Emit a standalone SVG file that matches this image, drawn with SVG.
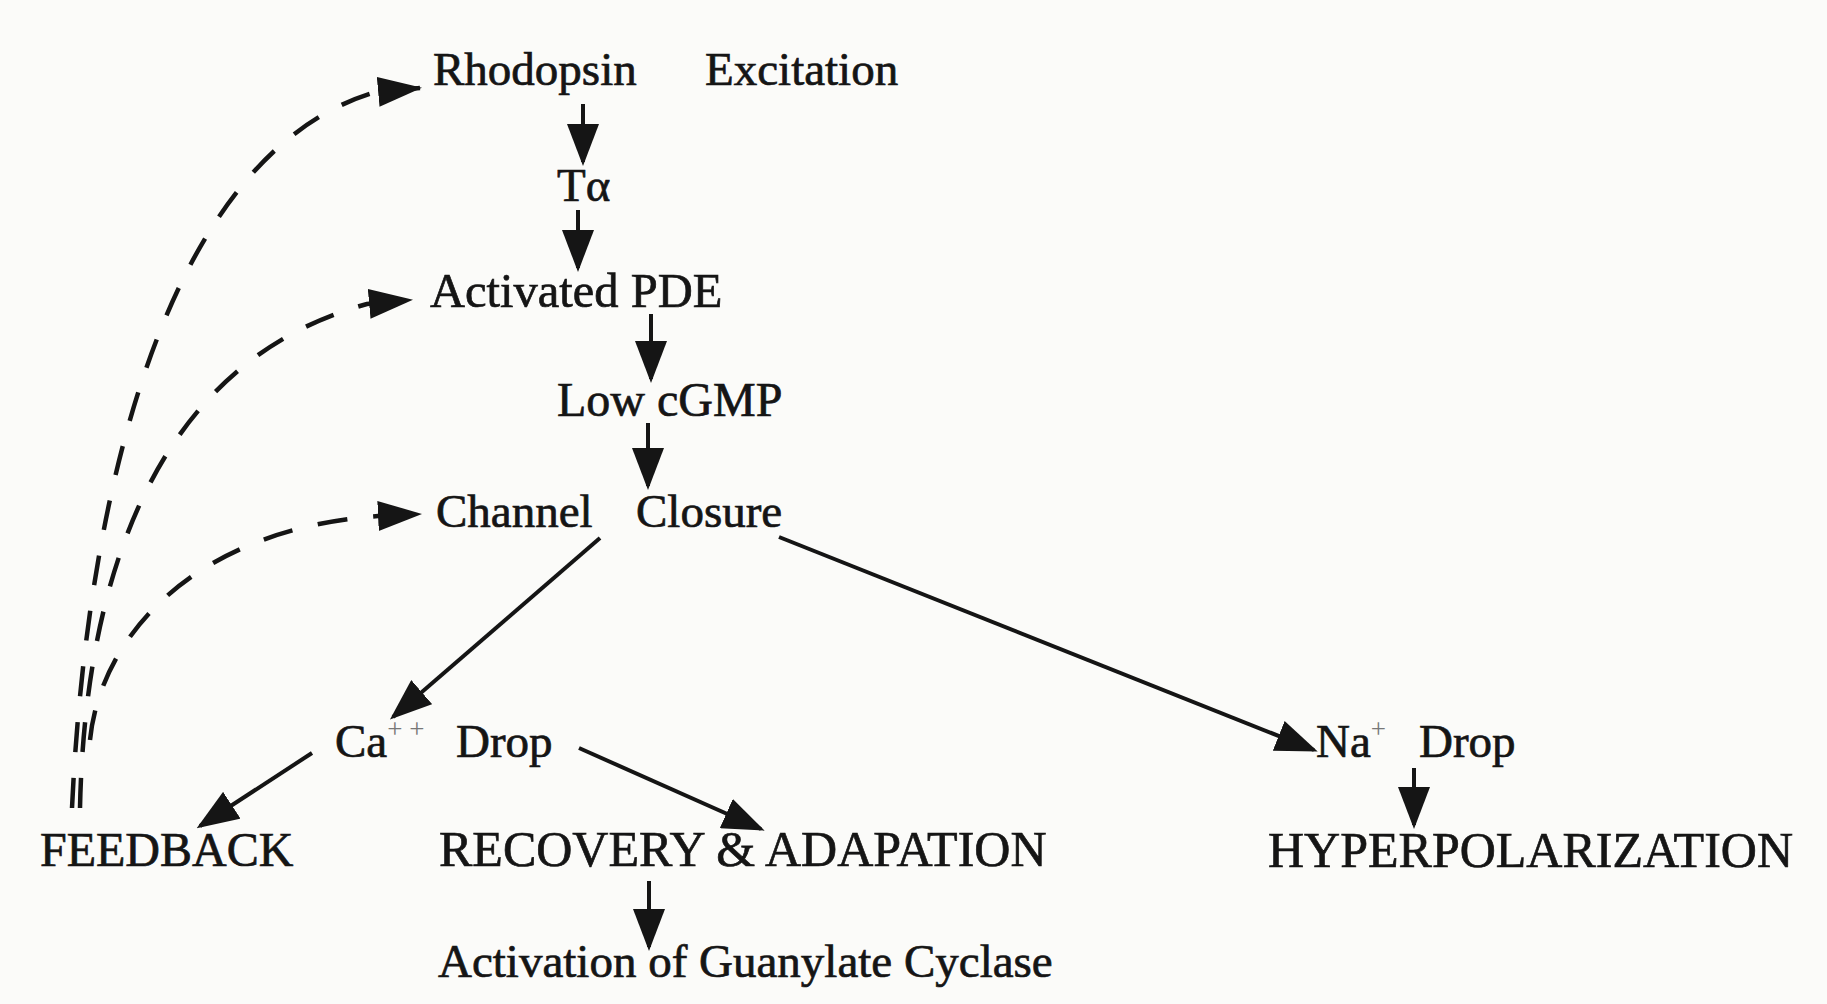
<svg xmlns="http://www.w3.org/2000/svg" width="1827" height="1004" viewBox="0 0 1827 1004">
<style>
.t{font-family:"Liberation Serif","Times New Roman",serif;font-size:47px;fill:#151515;stroke:#151515;stroke-width:0.7}
.c{font-family:"Liberation Serif","Times New Roman",serif;font-size:48px;fill:#151515;stroke:#151515;stroke-width:0.7}
.w{font-size:50px}
.sup{font-size:27px;fill:#777;stroke:none}
.s{fill:none;stroke:#151515;stroke-width:4}
.d{fill:none;stroke:#151515;stroke-width:4.5;stroke-dasharray:30 26}
</style>
<defs>
<marker id="ah" markerUnits="userSpaceOnUse" markerWidth="42" markerHeight="32" refX="38" refY="16" orient="auto"><path d="M0,0 L42,16 L0,32 Z" fill="#151515"/></marker>
<marker id="ahd" markerUnits="userSpaceOnUse" markerWidth="44" markerHeight="30" refX="42" refY="15" orient="auto"><path d="M0,0 L44,15 L0,30 Z" fill="#151515"/></marker>
</defs>
<rect width="1827" height="1004" fill="#fbfbf9"/>
<g id="connectors">
<path class="s" d="M583,104 L583,162" marker-end="url(#ah)"/>
<path class="s" d="M578,210 L578,268" marker-end="url(#ah)"/>
<path class="s" d="M651,314 L651,379" marker-end="url(#ah)"/>
<path class="s" d="M648,423 L648,486" marker-end="url(#ah)"/>
<path class="s" d="M600,538 L393,717" marker-end="url(#ah)"/>
<path class="s" d="M779,537 L1314,750" marker-end="url(#ah)"/>
<path class="s" d="M312,753 L200,826" marker-end="url(#ah)"/>
<path class="s" d="M579,748 L761,829" marker-end="url(#ah)"/>
<path class="s" d="M649,881 L649,947" marker-end="url(#ah)"/>
<path class="s" d="M1414,768 L1414,825" marker-end="url(#ah)"/>
<path class="d" d="M72,808 C88,470 175,150 376,92 L420,88" marker-end="url(#ahd)"/>
<path class="d" d="M80,808 C85,570 160,360 367,304 L411,300" marker-end="url(#ahd)"/>
<path class="d" d="M90,740 C100,640 190,530 378,516 L420,514" marker-end="url(#ahd)"/>
</g>
<g id="rhodopsin"><text class="t" x="433" y="85">Rhodopsin</text><text class="t" x="705" y="85">Excitation</text></g>
<g id="talpha"><text class="t" x="557" y="201">Tα</text></g>
<g id="pde"><text class="t" x="430" y="307" style="font-size:48.5px">Activated PDE</text></g>
<g id="cgmp"><text class="t" x="557" y="416" style="font-size:48px">Low cGMP</text></g>
<g id="channel"><text class="t" x="436" y="527">Channel</text><text class="t" x="636" y="527">Closure</text></g>
<g id="ca"><text class="t" x="335" y="757">Ca<tspan class="sup" dy="-19">+ +</tspan></text><text class="t" x="456" y="757">Drop</text></g>
<g id="na"><text class="t" x="1316" y="757">Na<tspan class="sup" dy="-19">+</tspan></text><text class="t" x="1419" y="757">Drop</text></g>
<g id="feedback"><text class="c" x="40" y="866">FEEDBACK</text></g>
<g id="recovery"><text class="c w" x="439" y="866">RECOVERY &amp; ADAPATION</text></g>
<g id="hyper"><text class="c w" x="1268" y="867">HYPERPOLARIZATION</text></g>
<g id="guanylate"><text class="t" x="438" y="977">Activation of Guanylate Cyclase</text></g>
</svg>
